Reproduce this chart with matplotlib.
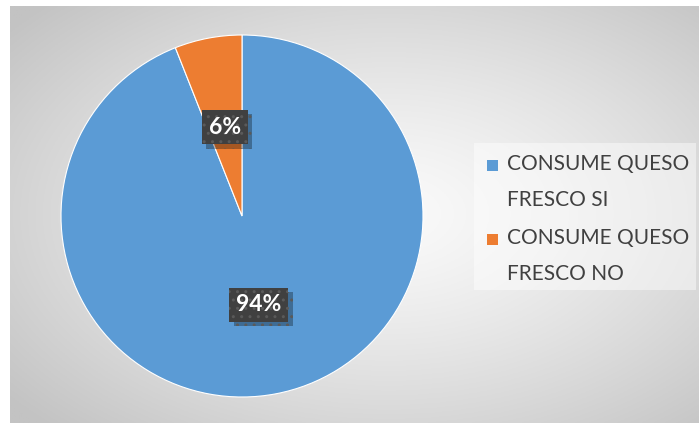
import numpy as np
import matplotlib.pyplot as plt
import matplotlib.patheffects as pe
from matplotlib.patches import Rectangle

labels = ['CONSUME QUESO\nFRESCO SI', 'CONSUME QUESO\nFRESCO NO']
values = [94, 6]
colors = ['#5B9BD5', '#ED7D31']

W, H = 699, 423
fig = plt.figure(figsize=(W / 100, H / 100), dpi=100)
fig.patch.set_facecolor('white')

# chart area with a radial grey gradient
bg = fig.add_axes([10 / W, 0, (W - 10) / W, (H - 6) / H])
gx, gy = np.meshgrid(np.linspace(0, 1, 400), np.linspace(0, 1, 250))
d = np.sqrt(((gx - 0.55) / 0.75) ** 2 + ((gy - 0.5) / 0.75) ** 2)
shade = 250 - 55 * np.clip(d / 0.95, 0, 1) ** 1.3
img = np.dstack([shade, shade, shade]) / 255
bg.imshow(img, extent=[0, 1, 0, 1], aspect='auto', origin='lower')
bg.set_axis_off()

# pie
cx, cy, r = 242, 216, 181
ax = fig.add_axes([(cx - r) / W, (H - cy - r) / H, 2 * r / W, 2 * r / H])
wedges, texts, autotexts = ax.pie(values, colors=colors, startangle=90, counterclock=False,
                                  autopct='%1.0f%%', pctdistance=0.5,
                                  wedgeprops=dict(edgecolor='white', linewidth=0.8),
                                  textprops=dict(color='white', fontsize=16.5,
                                                 fontweight='bold', family='Lato'))
ax.set_xlim(-1, 1)
ax.set_ylim(-1, 1)

# dark dotted label boxes with a soft drop shadow
for t in autotexts:
    t.set_zorder(4)
    t.set_bbox(dict(boxstyle='square,pad=0.3', facecolor='#404040',
                    edgecolor='#5a5a5a', linewidth=0, hatch='..'))
    t.get_bbox_patch().set_path_effects([
        pe.SimplePatchShadow(offset=(3, -3), shadow_rgbFace='black', alpha=0.3),
        pe.Normal()])

# legend drawn by hand so the marker sits on the first line
leg_bg = Rectangle((474 / W, 1 - 290 / H), 222 / W, 147 / H, transform=fig.transFigure,
                   facecolor='white', alpha=0.45, edgecolor='none')
fig.patches.append(leg_bg)
for i, (lab, col) in enumerate(zip(labels, colors)):
    top = 158 + i * 74
    fig.patches.append(Rectangle((487 / W, 1 - (top + 13) / H), 11 / W, 11 / H,
                                 transform=fig.transFigure, facecolor=col, edgecolor='none'))
    fig.text(507 / W, 1 - (top - 4) / H, lab, ha='left', va='top', fontsize=15,
             family='Lato', color='#404040', linespacing=2.0)

plt.savefig('out.png', dpi=100)
